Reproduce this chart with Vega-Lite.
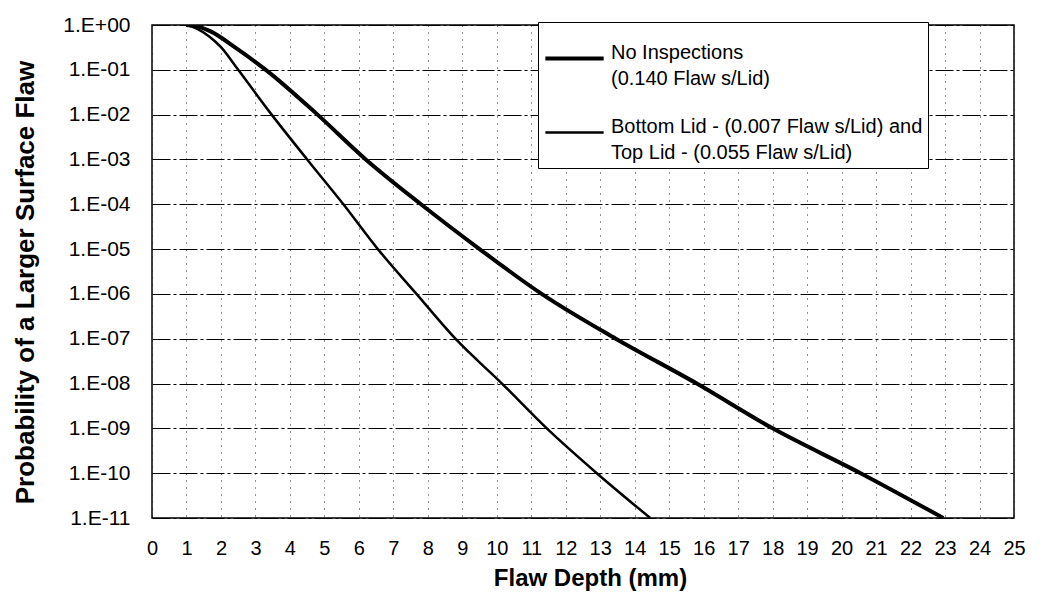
{
  "$schema": "https://vega.github.io/schema/vega-lite/v6.json",
  "autosize": {"type": "none"},
  "width": 862,
  "height": 493,
  "padding": {"left": 152, "top": 25, "right": 26, "bottom": 85},
  "background": "white",
  "config": {
    "font": "Liberation Sans",
    "view": {"stroke": "black", "strokeWidth": 1.5},
    "axis": {"labelColor": "black", "titleColor": "black", "domain": false, "ticks": false, "tickSize": 0},
    "legend": {"labelColor": "black"}
  },
  "data": {
    "values": [
      {"series": "No Inspections|(0.140 Flaw s/Lid)", "x": 1.0, "p": 1},
      {"series": "No Inspections|(0.140 Flaw s/Lid)", "x": 1.3, "p": 0.94},
      {"series": "No Inspections|(0.140 Flaw s/Lid)", "x": 1.7, "p": 0.72},
      {"series": "No Inspections|(0.140 Flaw s/Lid)", "x": 2.45, "p": 0.3},
      {"series": "No Inspections|(0.140 Flaw s/Lid)", "x": 3.3, "p": 0.1},
      {"series": "No Inspections|(0.140 Flaw s/Lid)", "x": 4.8, "p": 0.01},
      {"series": "No Inspections|(0.140 Flaw s/Lid)", "x": 6.2, "p": 0.001},
      {"series": "No Inspections|(0.140 Flaw s/Lid)", "x": 7.8, "p": 1e-4},
      {"series": "No Inspections|(0.140 Flaw s/Lid)", "x": 9.5, "p": 1e-5},
      {"series": "No Inspections|(0.140 Flaw s/Lid)", "x": 11.3, "p": 1e-6},
      {"series": "No Inspections|(0.140 Flaw s/Lid)", "x": 13.45, "p": 1e-7},
      {"series": "No Inspections|(0.140 Flaw s/Lid)", "x": 15.8, "p": 1e-8},
      {"series": "No Inspections|(0.140 Flaw s/Lid)", "x": 18.0, "p": 1e-9},
      {"series": "No Inspections|(0.140 Flaw s/Lid)", "x": 20.55, "p": 1e-10},
      {"series": "No Inspections|(0.140 Flaw s/Lid)", "x": 22.95, "p": 1e-11},
      {"series": "Bottom Lid - (0.007 Flaw s/Lid) and|Top Lid - (0.055 Flaw s/Lid)", "x": 1.0, "p": 1},
      {"series": "Bottom Lid - (0.007 Flaw s/Lid) and|Top Lid - (0.055 Flaw s/Lid)", "x": 1.3, "p": 0.83},
      {"series": "Bottom Lid - (0.007 Flaw s/Lid) and|Top Lid - (0.055 Flaw s/Lid)", "x": 1.65, "p": 0.56},
      {"series": "Bottom Lid - (0.007 Flaw s/Lid) and|Top Lid - (0.055 Flaw s/Lid)", "x": 2.0, "p": 0.32},
      {"series": "Bottom Lid - (0.007 Flaw s/Lid) and|Top Lid - (0.055 Flaw s/Lid)", "x": 2.5, "p": 0.1},
      {"series": "Bottom Lid - (0.007 Flaw s/Lid) and|Top Lid - (0.055 Flaw s/Lid)", "x": 3.47, "p": 0.01},
      {"series": "Bottom Lid - (0.007 Flaw s/Lid) and|Top Lid - (0.055 Flaw s/Lid)", "x": 4.5, "p": 0.001},
      {"series": "Bottom Lid - (0.007 Flaw s/Lid) and|Top Lid - (0.055 Flaw s/Lid)", "x": 5.55, "p": 1e-4},
      {"series": "Bottom Lid - (0.007 Flaw s/Lid) and|Top Lid - (0.055 Flaw s/Lid)", "x": 6.55, "p": 1e-5},
      {"series": "Bottom Lid - (0.007 Flaw s/Lid) and|Top Lid - (0.055 Flaw s/Lid)", "x": 7.67, "p": 1e-6},
      {"series": "Bottom Lid - (0.007 Flaw s/Lid) and|Top Lid - (0.055 Flaw s/Lid)", "x": 8.8, "p": 1e-7},
      {"series": "Bottom Lid - (0.007 Flaw s/Lid) and|Top Lid - (0.055 Flaw s/Lid)", "x": 10.15, "p": 1e-8},
      {"series": "Bottom Lid - (0.007 Flaw s/Lid) and|Top Lid - (0.055 Flaw s/Lid)", "x": 11.45, "p": 1e-9},
      {"series": "Bottom Lid - (0.007 Flaw s/Lid) and|Top Lid - (0.055 Flaw s/Lid)", "x": 12.9, "p": 1e-10},
      {"series": "Bottom Lid - (0.007 Flaw s/Lid) and|Top Lid - (0.055 Flaw s/Lid)", "x": 14.45, "p": 1e-11}
    ]
  },
  "mark": {"type": "line", "color": "black", "interpolate": "monotone", "clip": true},
  "encoding": {
    "x": {
      "field": "x", "type": "quantitative",
      "scale": {"domain": [0, 25], "nice": false, "zero": false},
      "axis": {
        "values": [0,1,2,3,4,5,6,7,8,9,10,11,12,13,14,15,16,17,18,19,20,21,22,23,24,25],
        "labelFontSize": 20, "labelPadding": 20, "labelFlush": false,
        "grid": true, "gridColor": "#222", "gridDash": [1, 6], "gridWidth": 1,
        "title": "Flaw Depth (mm)", "titleFontSize": 24, "titleFontWeight": "bold",
        "titleX": 438, "titleY": 67, "titleBaseline": "alphabetic", "titleAlign": "center"
      }
    },
    "y": {
      "field": "p", "type": "quantitative",
      "scale": {"type": "log", "domain": [1e-11, 1], "nice": false},
      "axis": {
        "values": [1, 0.1, 0.01, 0.001, 1e-4, 1e-5, 1e-6, 1e-7, 1e-8, 1e-9, 1e-10, 1e-11],
        "labelExpr": "datum.value >= 0.99 ? '1.E+00' : '1.E-' + (round(-log(datum.value)/LN10) < 10 ? '0' : '') + round(-log(datum.value)/LN10)",
        "labelFontSize": 21, "labelPadding": 22,
        "grid": true, "gridColor": "black", "gridDash": [18, 3, 3, 3], "gridWidth": 1.2,
        "title": "Probability of a Larger Surface Flaw", "titleFontSize": 26, "titleFontWeight": "bold",
        "titleAngle": -90, "titleX": -119, "titleY": 257, "titleBaseline": "alphabetic", "titleAlign": "center"
      }
    },
    "strokeWidth": {
      "field": "series", "type": "nominal",
      "scale": {
        "domain": ["No Inspections|(0.140 Flaw s/Lid)", "Bottom Lid - (0.007 Flaw s/Lid) and|Top Lid - (0.055 Flaw s/Lid)"],
        "range": [4, 2.5]
      },
      "legend": {
        "title": null,
        "orient": "none",
        "legendX": 386,
        "legendY": -3,
        "direction": "vertical",
        "symbolType": "stroke",
        "symbolSize": 3400,
        "symbolStrokeColor": "black",
        "labelFontSize": 20,
        "labelBaseline": "alphabetic",
        "labelOffset": 5,
        "labelLimit": 0,
        "labelExpr": "split(datum.label, '|')",
        "rowPadding": 13,
        "padding": 5,
        "fillColor": "white",
        "strokeColor": "black",
        "cornerRadius": 0,
        "encode": {"labels": {"update": {"lineHeight": {"value": 26}}}}
      }
    }
  }
}
